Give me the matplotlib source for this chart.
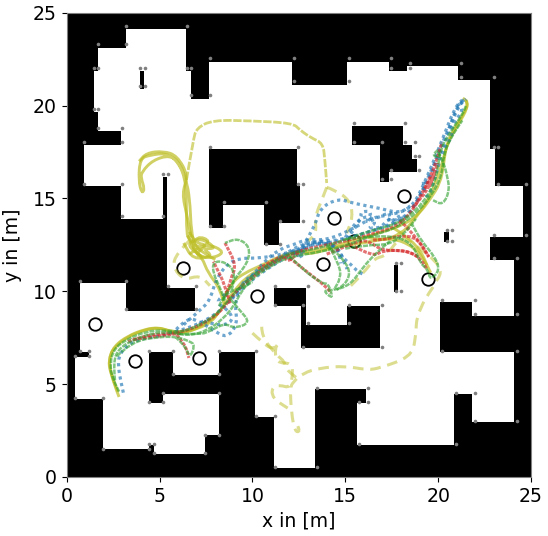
import matplotlib
matplotlib.use("Agg")
import matplotlib.pyplot as plt
from matplotlib.path import Path
from matplotlib.patches import PathPatch

# free space outline and the obstacles inside it, in metres
free_xy = [(3.19,24.11),(6.42,24.11),(6.42,21.87),(6.69,21.87),(6.69,20.36),(7.66,20.36),(7.66,22.34),(12.13,22.34),
           (12.13,21.11),(15.09,21.11),(15.09,22.34),(17.34,22.34),(17.34,21.87),(18.31,21.87),(18.31,22.12),(21.06,22.12),
           (21.06,21.37),(22.78,21.37),(22.78,17.67),(23.05,17.67),(23.05,15.68),(24.56,15.68),(24.56,12.92),(22.78,12.92),
           (22.78,11.68),(24.07,11.68),(24.07,8.67),(21.81,8.67),(21.81,9.42),(20.09,9.42),(20.09,6.74),(24.07,6.74),
           (24.07,2.98),(21.81,2.98),(21.81,4.48),(20.84,4.48),(20.84,1.72),(15.62,1.72),(15.62,4.00),(16.11,4.00),
           (16.11,4.74),(13.36,4.74),(13.36,0.48),(11.16,0.48),(11.16,3.25),(10.15,3.25),(10.15,6.74),(8.21,6.74),
           (8.21,5.51),(5.72,5.51),(5.72,6.74),(4.45,6.74),(4.45,4.00),(5.20,4.00),(5.20,4.48),(8.21,4.48),
           (8.21,2.26),(7.46,2.26),(7.46,1.24),(4.70,1.24),(4.70,1.72),(4.45,1.72),(4.45,1.51),(1.97,1.51),
           (1.97,4.21),(0.45,4.21),(0.45,6.47),(1.20,6.47),(1.20,6.74),(0.72,6.74),(0.72,10.46),(3.19,10.46),
           (3.19,8.95),(6.90,8.95),(6.90,10.19),(5.40,10.19),(5.40,13.90),(2.92,13.90),(2.92,15.68),(0.93,15.68),
           (0.93,17.88),(2.92,17.88),(2.92,18.64),(1.68,18.64),(1.68,19.66),(1.47,19.66),(1.47,21.87),(1.68,21.87),
           (1.68,23.11),(3.19,23.11)]
block_a = [(7.66,17.67),(12.39,17.67),(12.39,15.68),(12.55,15.68),(12.55,13.69),(11.43,13.69),(11.43,12.49),
           (10.62,12.49),(10.62,14.66),(8.41,14.66),(8.41,13.40),(7.66,13.40)]
block_b = [(15.35,18.89),(18.10,18.89),(18.10,17.88),(18.58,17.88),(18.58,17.13),(18.85,17.13),(18.85,16.42),
           (17.34,16.42),(17.34,15.89),(16.86,15.89),(16.86,17.88),(15.35,17.88)]
block_c = [(11.16,10.19),(12.88,10.19),(12.88,8.18),(15.09,8.18),(15.09,9.20),(16.86,9.20),(16.86,6.96),
           (12.61,6.96),(12.61,9.20),(11.16,9.20)]
slit_a = [(3.94,20.90),(4.16,20.90),(4.16,21.87),(3.94,21.87)]
slit_b = [(5.18,13.90),(5.40,13.90),(5.40,16.16),(5.18,16.16)]
slit_c = [(17.62,9.97),(17.83,9.97),(17.83,11.41),(17.62,11.41)]
slit_d = [(20.30,12.67),(20.57,12.67),(20.57,13.19),(20.30,13.19)]

# grey corner markers
corners = [(3.21,24.27),(6.49,24.27),(1.70,23.30),(3.21,23.30),(7.73,22.54),(12.25,22.54),(1.49,22.00),(1.70,22.00),
           (3.96,22.00),(4.23,22.00),(6.49,22.00),(6.71,22.00),(12.25,21.30),(3.96,21.03),(4.23,21.03),(6.71,20.55),
           (7.73,20.55),(1.49,19.80),(1.70,19.80),(1.70,18.77),(2.99,18.77),(0.95,18.02),(2.99,18.02),(7.73,17.75),
           (12.47,17.75),(5.20,16.30),(5.47,16.30),(0.95,15.76),(2.99,15.76),(12.47,15.76),(8.48,14.79),(10.75,14.79),
           (2.99,14.04),(5.20,14.04),(11.50,13.77),(7.73,13.50),(8.48,13.50),
           (15.21,22.54),(17.48,22.54),(18.50,22.27),(21.25,22.27),(17.48,22.00),(18.50,22.00),(15.21,21.30),(21.25,21.52),
           (23.02,21.52),(15.48,19.04),(18.23,19.04),(15.48,18.02),(16.99,18.02),(18.23,18.02),(18.77,18.02),(18.77,17.27),
           (18.98,17.27),(23.02,17.75),(23.24,17.75),(17.48,16.51),(18.98,16.51),(16.99,16.03),(17.48,16.03),(12.74,15.76),
           (23.24,15.76),(24.75,15.76),(12.74,13.77),(20.49,13.28),(20.76,13.28),(23.02,13.01),(24.75,13.01),
           (0.73,10.54),(3.21,10.54),(5.47,10.27),(6.97,10.27),(11.22,10.27),(3.21,9.03),(6.97,9.03),(11.22,9.24),
           (0.73,6.77),(1.22,6.77),(4.45,6.77),(5.74,6.77),(8.22,6.77),(10.21,6.77),(0.46,6.50),(1.22,6.50),
           (5.74,5.53),(8.22,5.53),(5.20,4.51),(8.22,4.51),(0.46,4.24),(1.97,4.24),(4.45,4.02),(5.20,4.02),
           (10.21,3.27),(11.22,3.27),(7.46,2.25),(8.22,2.25),(4.45,1.76),(4.72,1.76),(1.97,1.49),(4.45,1.49),
           (4.72,1.28),(7.46,1.28),(11.22,0.52),(10.75,12.53),(11.50,12.53),
           (13.01,10.27),(17.75,11.50),(18.02,11.50),(17.75,10.00),(18.02,10.00),(12.74,9.24),(15.21,9.24),(16.99,9.24),
           (13.01,8.27),(15.21,8.27),(12.74,6.98),(16.99,6.98),(20.22,9.51),(22.00,9.51),(22.00,8.76),(24.25,8.76),
           (20.22,6.77),(24.25,6.77),(23.02,11.77),(24.25,11.77),(13.49,4.78),(16.24,4.78),(15.75,4.02),(16.24,4.02),
           (20.98,4.51),(22.00,4.51),(22.00,3.00),(24.25,3.00),(15.75,1.76),(20.98,1.76),(13.49,0.52),(20.49,12.72),(20.76,12.72)]

# goal rings
goals_x = [1.52, 3.68, 7.15, 6.26, 10.27, 13.79, 14.39, 15.46, 18.15, 19.47]
goals_y = [8.23, 6.24, 6.40, 11.25, 9.74, 11.46, 13.94, 12.70, 15.12, 10.66]

# blue runs
blue_runs = [
    [(3.05,4.54),(2.90,5.2),(2.78,5.94),(2.80,6.5),(3.23,7.11),(3.95,7.43),(5.02,7.59),(5.92,7.85),(6.6,8.05),(7.3,8.35),
     (8.0,8.75),(8.7,9.35),(9.3,10.2),(10.0,10.85),(10.9,11.45),(11.8,12.05),(12.6,12.5),(13.5,12.7),(14.2,12.7),(15.0,12.85),
     (16.0,13.1),(17.0,13.45),(18.0,13.85),(18.6,14.45),(19.0,15.1),(19.4,16.0),(19.8,16.9),(20.1,17.7),(20.5,18.6),(20.9,19.5),
     (21.2,20.1),(21.5,20.35)],
    [(5.9,7.95),(6.5,8.6),(7.18,8.36),(7.9,7.9),(8.61,7.48),(9.2,8.2),(9.05,9.3),(9.3,10.2),(9.8,10.8),(10.8,11.3),(11.7,11.9),(12.5,12.35)],
    [(6.3,8.2),(7.2,9.0),(7.71,9.5),(8.08,10.78),(8.95,11.78),(10.56,11.78),(11.84,12.05),(12.6,12.3)],
    [(12.7,12.4),(13.36,13.47),(13.63,14.47),(14.6,15.0),(15.41,14.74),(16.85,14.47),(17.94,14.2),(18.5,14.6)],
    [(15.0,12.9),(15.5,13.7),(16.2,14.1),(16.7,13.7),(16.2,13.4),(16.9,13.4),(17.3,13.9),(17.7,13.8),(18.2,14.0)],
    [(15.3,13.1),(15.9,13.9),(15.8,14.3),(16.5,14.3),(16.0,13.6),(17.0,14.1),(17.6,14.3),(17.2,13.6),(18.0,14.1)],
    [(12.8,12.6),(14.1,12.65),(14.7,12.2),(14.8,11.86),(15.34,11.41),(15.68,11.05),(16.0,10.9)],
    [(12.3,12.1),(13.0,12.55),(13.8,12.72),(14.4,12.5),(14.8,12.0),(14.9,11.6),(15.1,11.2)],
    [(12.2,12.0),(13.0,12.45),(13.8,12.62),(14.5,12.35),(14.7,11.9),(14.75,11.5)],
    [(12.0,11.7),(12.4,12.4),(12.8,11.9),(12.2,11.8),(13.0,12.3),(12.5,11.9),(12.9,12.5)],
    [(9.7,10.5),(10.5,11.5),(11.5,12.3),(12.2,12.5),(12.9,12.8),(14.0,12.75),(15.3,13.3),(16.5,14.0),(17.5,14.1),(18.6,14.5),
     (19.3,15.9),(20.2,18.1),(20.9,19.9),(21.3,20.3)],
    [(8.9,9.6),(9.7,10.4),(10.7,11.15),(11.6,11.7),(12.5,12.25),(13.4,12.55),(14.2,12.6),(15.4,12.95),(16.6,13.3),(17.8,13.65),
     (18.5,14.2),(19.1,15.3),(19.7,16.4),(20.0,17.3),(20.4,18.0),(20.7,19.1),(21.0,19.9),(21.3,20.2)],
    [(19.2,15.9),(19.3,15.0),(19.6,15.3),(20.0,16.7),(20.2,17.5),(20.8,18.4),(20.7,18.9),(21.4,19.8),(21.0,20.0),(21.4,20.3)],
    [(7.4,8.4),(8.2,8.1),(9.0,8.4),(8.7,9.0),(8.0,9.4),(8.6,9.9)],
]

# red runs
red_runs = [
    [(3.3,7.3),(4.2,7.6),(5.0,7.7),(5.9,7.75),(6.8,8.0),(7.6,8.4),(8.4,9.0),(9.0,9.9),(9.8,10.6),(10.6,11.2),(11.6,11.8),(12.6,12.2),
     (13.5,12.4),(15.0,12.7),(16.5,13.1),(17.8,13.5),(18.6,14.3),(19.1,15.2),(19.6,16.2),(19.9,17.0),(20.2,18.0)],
    [(3.6,7.4),(4.5,7.55),(5.5,7.65),(6.2,7.75)],
    [(5.92,7.65),(6.35,7.2),(6.58,6.41)],
    [(8.58,9.7),(8.79,10.6),(9.15,11.4),(8.52,12.6)],
    [(8.8,9.35),(8.5,10.4),(8.07,11.25),(7.9,11.6)],
    [(12.0,11.8),(12.74,11.2),(14.06,10.18),(14.2,9.9)],
    [(14.0,12.0),(15.2,12.5),(15.98,12.76),(16.4,12.6),(17.0,12.2),(17.94,12.2),(18.5,12.1),(19.0,11.8),(19.4,11.2)],
    [(15.5,12.4),(16.5,11.85),(17.0,12.2),(18.3,12.2),(19.0,11.8)],
    [(16.5,12.76),(17.0,12.76),(17.93,13.0),(18.85,12.9),(19.5,11.85)],
    [(17.94,13.83),(18.85,12.9),(19.5,11.85)],
    [(18.6,14.5),(19.1,15.0),(19.6,15.8),(19.9,16.5),(19.5,15.9),(19.2,15.3),(19.8,16.4),(19.4,15.3),(20.0,16.9)],
    [(10.3,11.2),(11.0,11.6),(11.7,11.95),(11.9,11.55),(12.5,12.1)],
]

# green runs
green_runs = [
    [(2.82,4.6),(2.45,5.3),(2.33,6.13),(2.55,6.9),(3.2,7.4),(4.3,7.85),(5.3,7.9),(6.2,7.8),(7.2,8.2),(8.0,8.7),(8.7,9.5),(9.4,10.3),
     (10.2,11.0),(11.1,11.6),(12.0,12.05),(13.0,12.2),(14.2,12.5),(15.3,12.9),(16.5,13.3),(17.7,13.6),(18.5,14.1),(19.2,14.8),
     (19.7,15.6),(20.0,16.6),(20.1,17.6),(20.6,18.5),(21.3,19.5),(21.5,20.0)],
    [(2.6,5.2),(2.5,6.2),(2.8,6.9),(3.5,7.35),(4.6,7.75),(5.6,7.8),(6.6,7.6),(7.6,7.9),(8.4,8.5),(9.0,9.2),(9.4,10.0),(10.0,10.7),
     (10.9,11.3),(11.8,11.8),(12.9,12.0),(14.0,12.2),(15.2,12.5),(16.4,13.0),(17.6,13.35),(18.3,13.8),(19.0,14.4),(19.6,15.1),
     (20.2,16.2),(20.3,17.4),(20.7,18.3),(21.3,19.2)],
    [(2.7,6.5),(3.5,7.3),(5.0,7.55),(5.92,7.55),(6.64,7.3),(6.9,7.1),(6.64,6.41),(6.4,7.0),(5.9,7.5)],
    [(6.0,7.7),(7.0,7.7),(7.53,7.74),(8.5,8.3),(9.0,8.0),(9.9,8.3),(9.3,9.0),(8.8,9.6)],
    [(8.41,9.5),(8.95,10.6),(9.75,11.5),(9.87,12.4),(9.22,12.86),(8.52,12.6)],
    [(8.88,10.06),(9.15,10.98),(8.52,11.6),(7.88,11.6),(7.88,10.98),(8.25,10.2),(8.52,9.5)],
    [(8.2,9.2),(8.5,9.9),(9.5,10.2),(10.0,10.5)],
    [(12.0,11.9),(12.74,11.13),(13.8,10.4),(14.05,10.43),(14.27,9.9),(14.27,9.63),(13.8,10.05),(14.36,10.05),(15.26,10.33),
     (15.96,11.3),(16.6,12.0),(17.4,12.7)],
    [(14.0,12.4),(14.5,12.1),(14.8,11.8),(15.26,11.14),(15.1,10.5),(14.54,10.07)],
    [(14.1,12.5),(14.7,11.4),(14.75,10.7),(14.4,10.1)],
    [(15.0,12.8),(16.5,13.0),(18.0,12.9),(18.7,12.4),(19.03,11.52),(19.47,11.14),(19.57,10.6),(20.1,11.14),(19.8,11.9),(19.1,12.7),
     (18.6,13.6)],
    [(15.0,12.3),(16.2,12.5),(17.3,12.5),(18.1,13.0),(18.8,13.9)],
    [(20.0,17.5),(20.3,16.9),(20.45,16.36),(20.63,15.45),(20.26,14.64),(19.73,14.9)],
    [(20.0,17.6),(19.7,17.4),(19.9,17.2),(20.1,17.4)],
]

# olive runs
olive_runs = [
    [(2.82,4.31),(2.55,5.0),(2.28,6.0),(2.35,6.6),(2.6,7.0),(3.25,7.53),(4.0,7.85),(4.65,8.02),(5.2,8.0),(5.72,7.75),(6.4,7.75),
     (7.2,8.1),(8.0,8.6),(8.5,9.3),(9.0,10.0),(9.6,10.7),(10.4,11.2),(11.2,11.65),(12.0,12.0),(13.0,12.15),(14.0,12.3),(15.0,12.6),
     (16.0,12.9),(17.0,13.2),(18.2,13.6),(19.0,14.2),(19.6,15.0),(20.1,15.8),(20.3,16.8),(20.4,17.7),(20.8,18.7),(21.5,19.75),
     (21.6,20.2),(21.33,20.4)],
    [(2.75,4.6),(2.35,5.6),(2.25,6.3),(2.55,7.05),(3.3,7.6),(4.2,7.95),(4.9,8.05),(5.6,7.85),(6.3,7.8),(7.1,8.0),(7.8,8.35),(8.2,8.9)],
    [(8.4,9.6),(8.9,10.5),(9.6,11.0),(10.5,11.4),(11.5,11.9),(12.4,12.2),(13.0,11.95),(14.5,12.4),(16.0,12.6),(17.5,12.9),(18.7,12.4),
     (19.3,11.6),(19.6,11.0)],
    [(17.6,13.4),(18.4,12.9),(19.1,12.1),(19.4,11.4)],
    [(16.2,12.9),(17.0,12.7),(18.0,13.1),(18.6,13.7),(19.4,14.8),(19.9,15.9),(20.25,17.0),(20.5,18.0),(21.1,19.0),(21.6,19.9),(21.5,20.3)],
    [(8.5,9.2),(8.3,10.1),(7.6,11.0),(7.3,11.8),(6.9,12.2),(6.6,12.8),(6.45,13.1),(6.45,14.9),(6.37,16.16),(5.92,17.07),(5.29,17.44),
     (4.48,17.33),(3.95,17.15),(3.87,15.97),(4.04,15.27),(4.2,15.5),(4.0,16.1),(4.04,16.43),(4.65,17.07),(5.56,17.33),(6.1,16.9),
     (6.5,15.8),(6.65,14.6),(6.7,13.3),(6.9,12.4),(7.5,12.0),(8.0,11.7)],
    [(6.6,13.2),(6.9,12.6),(7.6,12.5),(6.9,12.0),(7.4,11.8),(6.4,12.5),(7.2,12.9),(8.1,12.3),(7.3,12.3),(7.9,11.9),(6.8,11.7),(6.3,12.6)],
    [(6.5,13.0),(7.0,12.2),(7.8,12.7),(7.0,13.0),(6.7,12.2),(7.6,11.7),(8.6,12.1),(7.5,12.6),(6.6,12.0)],
    [(6.7,12.9),(6.5,14.0),(6.2,15.3),(6.55,16.2),(5.95,17.3),(5.2,17.55),(4.3,17.45),(3.9,17.0)],
]

# light dashed runs
dashed_top = [(6.45,16.0),(6.81,18.14),(7.0,18.8),(7.88,19.22),(9.87,19.18),(12.18,19.06),(12.56,18.68),(13.18,18.25),(13.8,17.97),
              (13.9,17.07),(14.0,15.83)]
dashed_ring = [(14.0,15.6),(14.44,15.45),(15.25,14.9),(15.41,14.0),(15.08,13.13)]
dashed_ring2 = [(14.0,15.6),(13.8,15.07),(13.36,14.0),(13.45,13.13),(13.0,12.7)]
dashed_south = [(19.73,10.23),(18.85,8.99),(18.8,7.38),(18.5,6.46),(16.87,5.87),(16.2,5.76),(14.98,5.98),(13.63,5.87),(12.74,5.6),
                (12.19,5.12),(12.03,4.79),(12.1,3.44),(12.29,2.44),(12.56,2.44),(12.38,2.91)]
dashed_mess = [(10.0,7.75),(10.5,7.28),(11.1,6.84),(11.48,7.28),(11.2,6.95),(11.3,6.14),(12.1,6.14),(12.18,5.6),(12.03,4.79),(11.48,4.95),
               (11.1,4.86),(11.03,4.41),(11.37,4.05),(11.9,3.71)]
dashed_mess2 = [(10.5,8.09),(10.5,7.55),(11.3,6.57),(11.75,6.2),(11.75,5.87),(12.38,5.33)]
dashed_left = [(6.63,12.76),(5.92,12.04),(5.7,11.32),(6.3,10.6),(7.18,10.87),(7.71,10.3)]
dashed_mid = [(15.3,10.3),(16.0,11.0),(16.6,11.8),(17.2,11.9),(18.0,13.0),(18.9,12.4),(19.9,11.6),(20.2,11.0),(19.8,10.4)]
dashed_runs = [dashed_ring, dashed_ring2, dashed_south, dashed_mess, dashed_mess2, dashed_left, dashed_mid]


def draw_runs(ax, runs, **style):
    # rounded corners through the waypoints
    for run in runs:
        verts = [run[0]]
        codes = [Path.MOVETO]
        for i in range(1, len(run) - 1):
            mid = ((run[i][0] + run[i + 1][0]) / 2, (run[i][1] + run[i + 1][1]) / 2)
            verts += [run[i], mid]
            codes += [Path.CURVE3, Path.CURVE3]
        verts.append(run[-1])
        codes.append(Path.LINETO)
        ax.add_patch(PathPatch(Path(verts, codes), fill=False, **style))


fig = plt.figure(figsize=(5.48, 5.36), dpi=100)
ax = fig.add_axes([66.7 / 548, 59 / 536, 464.3 / 548, 464.3 / 536])
ax.set_facecolor("black")
ax.fill([p[0] for p in free_xy], [p[1] for p in free_xy], color="white", lw=0, zorder=1)
for block in [block_a, block_b, block_c, slit_a, slit_b, slit_c, slit_d]:
    ax.fill([p[0] for p in block], [p[1] for p in block], color="black", lw=0, zorder=1.1)
ax.plot([c[0] for c in corners], [c[1] for c in corners], ls="none", marker="o", ms=2.6, color="gray", mew=0, zorder=2)
ax.plot(goals_x, goals_y, ls="none", marker="o", ms=9, mfc="none", mec="black", mew=1.3, zorder=2.5)

draw_runs(ax, dashed_runs, edgecolor="tab:olive", alpha=0.5, lw=2.2, ls=(0, (3.5, 2.2)), zorder=3)
draw_runs(ax, [dashed_top], edgecolor="tab:olive", alpha=0.6, lw=2.0, ls=(0, (3, 0.6)), zorder=3)
draw_runs(ax, olive_runs, edgecolor="tab:olive", alpha=0.7, lw=2.1, zorder=3.5)
draw_runs(ax, blue_runs, edgecolor="tab:blue", alpha=0.65, lw=2.3, ls=(0, (1, 1.1)), zorder=4)
draw_runs(ax, red_runs, edgecolor="tab:red", alpha=0.65, lw=2.2, ls=(0, (1.2, 0.4)), zorder=5)
draw_runs(ax, green_runs, edgecolor="tab:green", alpha=0.6, lw=1.8, ls=(0, (2, 0.4)), zorder=6)

ax.set_xlim(0, 25)
ax.set_ylim(0, 25)
ax.set_xticks([0, 5, 10, 15, 20, 25])
ax.set_yticks([0, 5, 10, 15, 20, 25])
ax.tick_params(labelsize=13.6)
ax.set_xlabel("x in [m]", fontsize=13.6, labelpad=4)
ax.set_ylabel("y in [m]", fontsize=13.6, labelpad=8)
for s in ax.spines.values():
    s.set_color("gray")

fig.savefig("out.png", dpi=100)
